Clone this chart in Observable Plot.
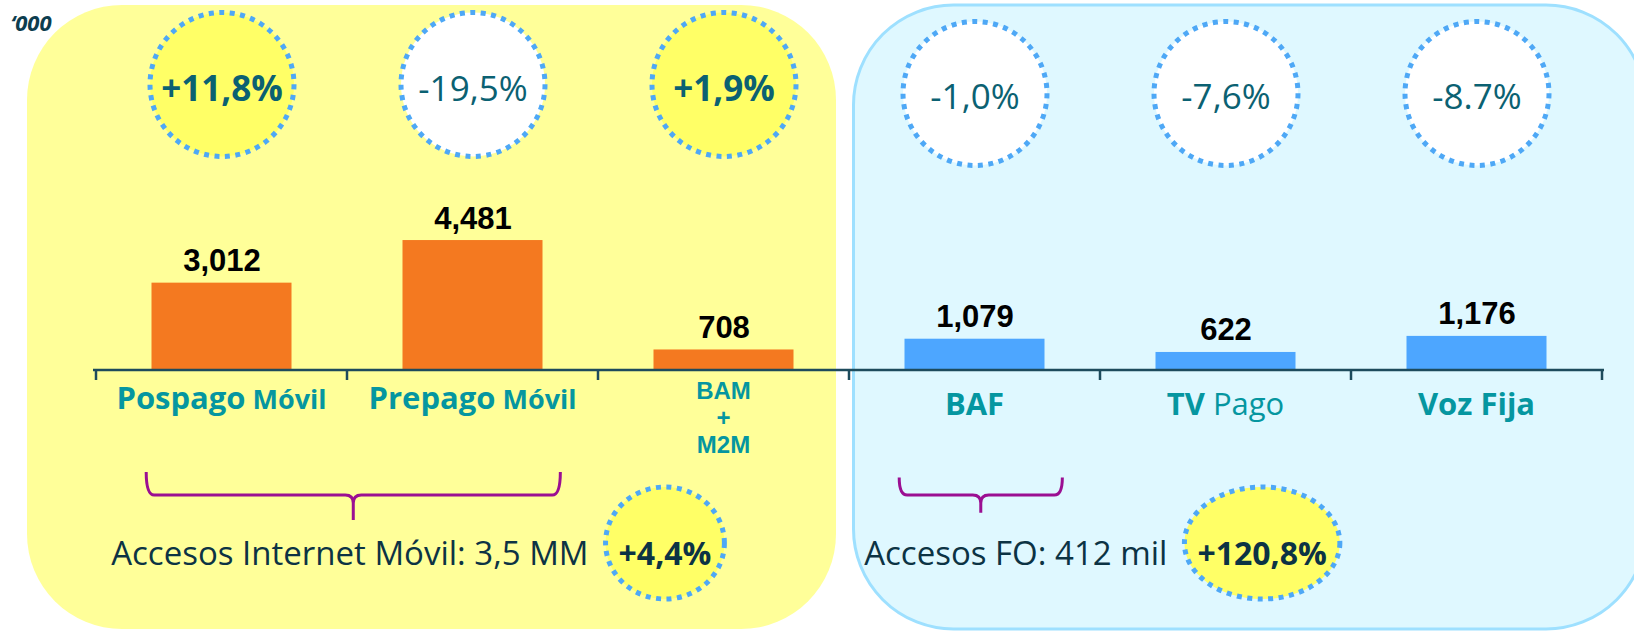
<!DOCTYPE html>
<html><head><meta charset="utf-8">
<script src="https://cdn.jsdelivr.net/npm/d3@7"></script>
<script src="https://cdn.jsdelivr.net/npm/@observablehq/plot@0.6"></script>
<style>body{margin:0;background:#fff;} svg{display:block}</style>
</head><body><div id="chart"></div>
<script>
// ---- data ----
const categories = ["Pospago Móvil","Prepago Móvil","BAM + M2M","BAF","TV Pago","Voz Fija"];
const groups = ["Móvil","Móvil","Móvil","Fijo","Fijo","Fijo"];
const values = [3012, 4481, 708, 1079, 622, 1176];
const changes = ["+11,8%","-19,5%","+1,9%","-1,0%","-7,6%","-8.7%"];
const highlighted = [true, false, true, false, false, false];
const labelMain = ["Pospago","Prepago","BAM\n+\nM2M","BAF","TV","Voz Fija"];
const labelSub = ["Móvil","Móvil","","","Pago",""];
const noteTexts = ["Accesos Internet Móvil: 3,5 MM","Accesos FO: 412 mil"];
const noteChanges = ["+4,4%","+120,8%"];
const noteFrom = ["Pospago Móvil","BAF"];
const noteTo = ["Prepago Móvil","BAF"];
const unitLabel = "‘000";

const data = categories.map((c,i)=>({cat:c, group:groups[i], value:values[i], change:changes[i], hi:highlighted[i], main:labelMain[i], sub:labelSub[i]}));
const notes = noteTexts.map((t,i)=>({text:t, change:noteChanges[i], from:noteFrom[i], to:noteTo[i]}));

const FONT = "'Open Sans', sans-serif";
const ORANGE = "#F47920", BLUE = "#4DA6FF", TEAL = "#0596A0", CTEXT = "#0B6172", NAVY = "#0C3344";
const DASH_STROKE = "#4EA8F6";
const DASH = "5,5.5";
const fmt = d3.format(",");

function panelsMark(index, scales) {
  const x = scales.x, bw = x.bandwidth(), r0 = x.range()[0];
  const g = d3.create("svg:g");
  const yx0 = r0 - 66, yx1 = x("BAM + M2M") + bw - 13;
  g.append("rect").attr("x", yx0).attr("y", 5).attr("width", yx1 - yx0).attr("height", 624)
    .attr("rx", 95).attr("fill", "#FFFF99");
  const bx0 = x("BAF") + 4.5, bx1 = x("Voz Fija") + bw + 44;
  g.append("rect").attr("x", bx0).attr("y", 5).attr("width", bx1 - bx0).attr("height", 624)
    .attr("rx", 100).attr("fill", "#DFF8FF").attr("stroke", "#9EE0FF").attr("stroke-width", 3);
  return g.node();
}

function axisMark(index, scales) {
  const x = scales.x, y = scales.y, bw = x.bandwidth();
  const [r0, r1] = x.range();
  const y0 = y(0);
  const g = d3.create("svg:g").attr("stroke", "#1D4B5C").attr("stroke-width", 2.5);
  g.append("line").attr("x1", r0).attr("x2", r1).attr("y1", y0).attr("y2", y0);
  const edges = categories.map(c => x(c)).concat([x(categories[categories.length-1]) + bw]);
  edges.forEach(e => g.append("line").attr("x1", e).attr("x2", e).attr("y1", y0).attr("y2", y0 + 10));
  return g.node();
}

function labelsMark(index, scales) {
  const x = scales.x, y = scales.y, bw = x.bandwidth(), y0 = y(0);
  const g = d3.create("svg:g").attr("font-family", FONT).attr("fill", TEAL).attr("text-anchor", "middle");
  data.forEach(d => {
    const cx = x(d.cat) + bw / 2;
    const lines = d.main.split("\n");
    if (lines.length > 1) {
      const t = g.append("text").attr("x", cx).attr("y", y0 + 29)
        .attr("font-family", "'Liberation Sans', Arial, sans-serif")
        .attr("font-size", 24).attr("font-weight", "bold");
      lines.forEach((ln, i) => t.append("tspan").attr("x", cx).attr("dy", i === 0 ? 0 : 27).text(ln));
    } else {
      const mob = d.group === "Móvil";
      const t = g.append("text").attr("x", cx).attr("y", y0 + (mob ? 39 : 45));
      t.append("tspan").attr("font-size", 31).attr("font-weight", "bold").text(d.main);
      if (d.sub) t.append("tspan").attr("font-size", mob ? 27 : 31)
        .attr("font-weight", mob ? "bold" : "normal").text(" " + d.sub);
    }
  });
  return g.node();
}

function notesMark(index, scales) {
  const x = scales.x, y = scales.y, bw = x.bandwidth(), y0 = y(0);
  const ctx = document.createElement("canvas").getContext("2d");
  const g = d3.create("svg:g");
  notes.forEach(n => {
    const x1 = x(n.from) + 0.2 * bw, x2 = x(n.to) + 0.85 * bw, cx = (x1 + x2) / 2;
    const span = x2 - x1;
    const yLine = y0 + 125, arm = 14 + span * 0.022, tip = 13 + span * 0.029;
    const c = 8;
    const p = `M${x1},${yLine - arm} Q${x1},${yLine} ${x1 + c},${yLine} L${cx - c},${yLine} Q${cx},${yLine} ${cx},${yLine + c} L${cx},${yLine + tip}`
      + ` M${cx},${yLine + c} Q${cx},${yLine} ${cx + c},${yLine} L${x2 - c},${yLine} Q${x2},${yLine} ${x2},${yLine - arm}`;
    g.append("path").attr("d", p).attr("fill", "none").attr("stroke", "#9B0F92").attr("stroke-width", 3);
    const tx = x1 - 35, ty = y0 + 195;
    ctx.font = "33px 'Open Sans'";
    const tw = ctx.measureText(n.text).width;
    g.append("text").attr("x", tx).attr("y", ty).attr("text-anchor", "start").attr("font-family", FONT)
      .attr("font-size", 33).attr("fill", NAVY).text(n.text);
    ctx.font = "bold 32px 'Open Sans'";
    const cw = ctx.measureText(n.change).width;
    const rx = cw / 2 + 13, ecx = tx + tw + 17 + rx;
    g.append("ellipse").attr("cx", ecx).attr("cy", y0 + 173).attr("rx", rx).attr("ry", 56)
      .attr("fill", "#FFFF66").attr("stroke", DASH_STROKE).attr("stroke-width", 5).attr("stroke-dasharray", DASH);
    g.append("text").attr("x", ecx).attr("y", ty).attr("text-anchor", "middle").attr("font-family", FONT)
      .attr("font-size", 32).attr("font-weight", "bold").attr("fill", NAVY).text(n.change);
  });
  return g.node();
}

const circleCommon = {x: "cat", frameAnchor: "top", r: 72, stroke: DASH_STROKE, strokeWidth: 5, strokeDasharray: DASH};
const pctCommon = {x: "cat", text: "change", frameAnchor: "top", lineAnchor: "bottom", fontSize: 35, fontFamily: FONT, fill: CTEXT};

const chart = Plot.plot({
  width: 1634, height: 631,
  marginTop: 0, marginRight: 0, marginBottom: 0, marginLeft: 0,
  style: {background: "transparent", overflow: "visible"},
  x: {type: "band", domain: categories, range: [93, 1604], padding: 0, axis: null},
  y: {domain: [0, 5000], range: [370, 225], axis: null},
  marks: [
    panelsMark,
    Plot.barY(data, {filter: d => d.group === "Móvil", x: "cat", y: "value", fill: ORANGE, insetLeft: 55.5, insetRight: 55.5}),
    Plot.barY(data, {filter: d => d.group === "Fijo", x: "cat", y: "value", fill: BLUE, insetLeft: 55.5, insetRight: 55.5}),
    Plot.text(data, {x: "cat", y: "value", text: d => fmt(d.value), dy: -12, lineAnchor: "bottom",
      fontSize: 31, fontWeight: "bold", fontFamily: "'Liberation Sans', Arial, sans-serif", fill: "#000"}),
    axisMark,
    labelsMark,
    Plot.dot(data, {...circleCommon, filter: d => d.group === "Móvil" && d.hi, dy: 84, fill: "#FFFF66"}),
    Plot.dot(data, {...circleCommon, filter: d => d.group === "Móvil" && !d.hi, dy: 84, fill: "#FFFFFF"}),
    Plot.dot(data, {...circleCommon, filter: d => d.group === "Fijo", dy: 93, fill: "#FFFFFF"}),
    Plot.text(data, {...pctCommon, filter: d => d.group === "Móvil" && d.hi, dy: 100, fontWeight: "bold"}),
    Plot.text(data, {...pctCommon, filter: d => d.group === "Móvil" && !d.hi, dy: 100, fontWeight: "normal"}),
    Plot.text(data, {...pctCommon, filter: d => d.group === "Fijo", dy: 108, fontWeight: "normal"}),
    notesMark,
    Plot.text([unitLabel], {frameAnchor: "top-left", textAnchor: "start", lineAnchor: "bottom", dx: 10, dy: 30,
      fontSize: 22, fontWeight: "bold", fontStyle: "italic", fontFamily: FONT, fill: "#0D3D4F"})
  ]
});
document.getElementById("chart").appendChild(chart);
</script>
</body></html>
